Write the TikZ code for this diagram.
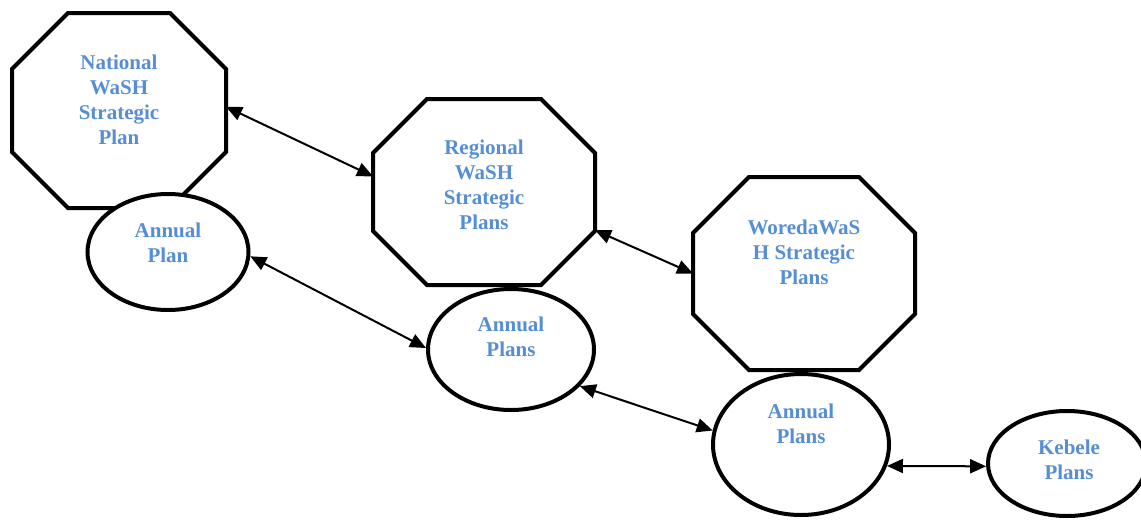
\documentclass[tikz,border=0pt]{standalone}
\usepackage{fontspec}
\setmainfont{Liberation Serif}
\usetikzlibrary{positioning,arrows.meta,shapes.geometric}
\definecolor{planblue}{RGB}{85,142,213}

% octagon drawn round a rectangle node, #2 is the corner cut
\newcommand{\octoline}[2]{%
	\draw[line width=4pt]
		([xshift=#2]#1.north west) -- ([xshift=-#2]#1.north east)
		-- ([yshift=-#2]#1.north east) -- ([yshift=#2]#1.south east)
		-- ([xshift=-#2]#1.south east) -- ([xshift=#2]#1.south west)
		-- ([yshift=#2]#1.south west) -- ([yshift=-#2]#1.north west) -- cycle;}

\begin{document}
\begin{tikzpicture}[x=1pt,y=-1pt,
		octo/.style={
				rectangle,
				inner sep=0pt,
				outer sep=2pt},
		oval/.style={
				draw,
				fill=white,
				line width=4pt,
				ellipse,
				inner sep=0pt},
		label text/.style={
				align=center,
				text=planblue,
				font=\fontsize{21}{25}\selectfont\bfseries},
		link/.style={
				line width=2pt,
				{Triangle[length=16pt,width=14pt]}-{Triangle[length=16pt,width=14pt]}}]

	\useasboundingbox (0,0) rectangle (1141,520);

	% strategic plans
	\node (nat) [octo, minimum width=210pt, minimum height=191pt] at (119,110.5) {};
	\node (reg) [octo, minimum width=218pt, minimum height=182pt] at (484,192) {};
	\node (wor) [octo, minimum width=218pt, minimum height=189pt] at (804,273.5) {};
	\octoline{nat}{56pt}
	\octoline{reg}{54pt}
	\octoline{wor}{56pt}

	\node [label text] at (119,100) {National\\WaSH\\Strategic\\Plan};
	\node [label text] at (484,185) {Regional\\WaSH\\Strategic\\Plans};
	\node [label text] at (804,252) {WoredaWaS\\H Strategic\\Plans};

	% annual plans
	\node (nap) [oval, minimum width=161pt, minimum height=116pt] at (168,252) {};
	\node (rap) [oval, minimum width=166pt, minimum height=121pt] at (511,349.5) {};
	\node (wap) [oval, minimum width=176pt, minimum height=141pt] at (801,444.5) {};
	\node (keb) [oval, minimum width=158pt, minimum height=105pt] at (1067,463.5) {};

	\node [label text] at (168,243) {Annual\\Plan};
	\node [label text] at (511,337) {Annual\\Plans};
	\node [label text] at (801,424) {Annual\\Plans};
	\node [label text] at (1069,460) {Kebele\\Plans};

	\draw[link] (nat.2) -- (reg.172);
	\draw[link] (nap.-3) -- (rap.179);
	\draw[link] (reg.-19) -- (wor.180);
	\draw[link] (rap.-28) -- (wap.171);
	\draw[link] (wap.-14) -- (keb.182);

\end{tikzpicture}
\end{document}
